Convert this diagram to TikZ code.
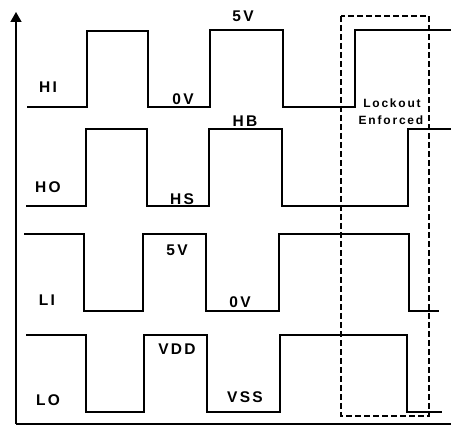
\documentclass[tikz,border=0pt]{standalone}
\usepackage{fontspec}
\setmainfont{Liberation Sans}[LetterSpace=15]
\usetikzlibrary{arrows.meta}
\begin{document}
\begin{tikzpicture}[x=1pt,y=-1pt,
  wave/.style={line width=1.4pt},
  axis/.style={line width=1.4pt},
  lbl/.style={font=\fontsize{15.5}{17}\bfseries\selectfont, inner sep=0pt},
  small/.style={font=\fontsize{12}{14}\bfseries\selectfont, inner sep=0pt, align=center},
  lockbox/.style={line width=1.3pt, dash pattern=on 6pt off 3pt}]
\useasboundingbox (0,0) rectangle (451,427);
% axes
\coordinate (org) at (16,424);
\coordinate (top) at (16,12);
\coordinate (xend) at (451,424);
\draw[axis,-{Triangle[length=10pt,width=11pt]}] (org) -- (top);
\draw[axis] (org) -- (xend);
% HI
\draw[wave] (27,107) -- (87,107) -- (87,31) -- (148,31) -- (148,107) -- (210,107) -- (210,30) -- (283,30) -- (283,107) -- (355,107) -- (355,30) -- (451,30);
% HO
\draw[wave] (26,206) -- (86,206) -- (86,129) -- (147,129) -- (147,206) -- (209,206) -- (209,129) -- (282,129) -- (282,206) -- (408,206) -- (408,129) -- (451,129);
% LI
\draw[wave] (24,234) -- (84,234) -- (84,311) -- (143,311) -- (143,234) -- (206,234) -- (206,311) -- (279,311) -- (279,234) -- (409,234) -- (409,311) -- (439,311);
% LO
\draw[wave] (26,335) -- (86,335) -- (86,412) -- (144,412) -- (144,335) -- (207,335) -- (207,412) -- (280,412) -- (280,335) -- (407,335) -- (407,412) -- (442,412);
% lockout box
\draw[lockbox] (341,16) rectangle (429,416);
% labels
\node[lbl] (hi) at (48,87) {HI};
\node[lbl] (ho) at (48,187) {HO};
\node[lbl] (li) at (47,300) {LI};
\node[lbl] (lo) at (48,400) {LO};
\node[lbl] (v0a) at (183,99) {0V};
\node[lbl] (hs) at (182,199) {HS};
\node[lbl] (v5a) at (243,16) {5V};
\node[lbl] (hb) at (245,121) {HB};
\node[lbl] (v5b) at (177,250) {5V};
\node[lbl] (v0b) at (240,302) {0V};
\node[lbl] (vdd) at (177,349) {VDD};
\node[lbl] (vss) at (245,397) {VSS};
\node[small] (lock) at (392,103) {Lockout};
\node[small] (enf) at (391,120) {Enforced};
\end{tikzpicture}
\end{document}
